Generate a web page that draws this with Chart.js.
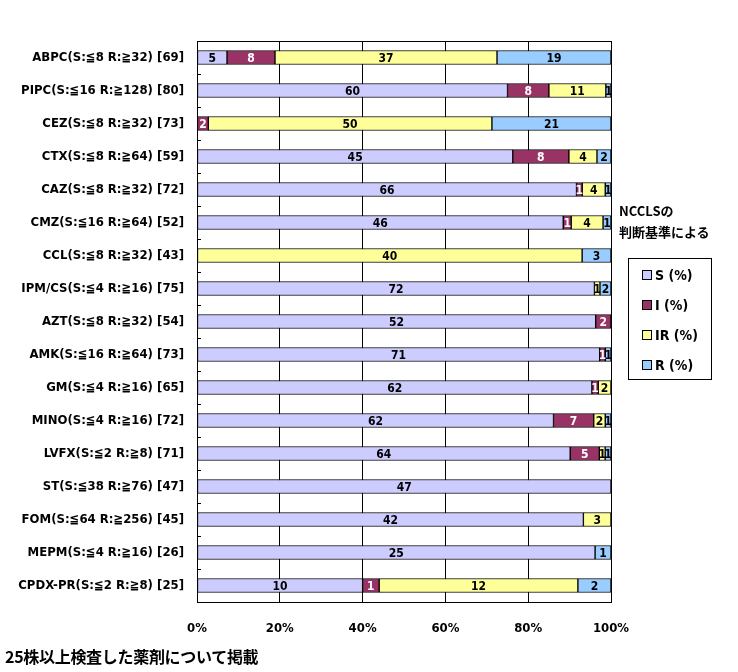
<!DOCTYPE html>
<html lang="ja">
<head>
  <meta charset="UTF-8" />
  <title>NCCLS 判断基準による感受性</title>
  <script src="https://cdn.jsdelivr.net/npm/chart.js"></script>
  <style>
    body { margin: 0; background: #fff; }
    #wrap { position: relative; width: 738px; height: 672px; }
    .note { position: absolute; font-family: "Noto Sans CJK JP", sans-serif; font-weight: bold; color: #000; white-space: nowrap; }
    #legend { position: absolute; left: 628px; top: 258px; width: 84px; height: 122px; border: 1px solid #000; box-sizing: border-box; }
    #legend div { position: absolute; left: 13px; font: bold 14px "DejaVu Sans Condensed", "Noto Sans CJK JP", sans-serif; }
    #legend span { display: inline-block; width: 8px; height: 8px; border: 1px solid #000; margin-right: 3px; }
  </style>
</head>
<body>
  <div id="wrap">
    <canvas id="chart" width="738" height="672"></canvas>
    <div class="note" style="left:619px; top:201px; font-size:13px;">NCCLSの</div>
    <div class="note" style="left:619px; top:222px; font-size:13px;">判断基準による</div>
    <div id="legend"></div>
    <div class="note" style="left:5px; top:644px; font-size:16px; letter-spacing:-0.3px;">25株以上検査した薬剤について掲載</div>
  </div>

  <script>
    const categories = [
      "ABPC(S:≦8 R:≧32) [69]", "PIPC(S:≦16 R:≧128) [80]", "CEZ(S:≦8 R:≧32) [73]",
      "CTX(S:≦8 R:≧64) [59]", "CAZ(S:≦8 R:≧32) [72]", "CMZ(S:≦16 R:≧64) [52]",
      "CCL(S:≦8 R:≧32) [43]", "IPM/CS(S:≦4 R:≧16) [75]", "AZT(S:≦8 R:≧32) [54]",
      "AMK(S:≦16 R:≧64) [73]", "GM(S:≦4 R:≧16) [65]", "MINO(S:≦4 R:≧16) [72]",
      "LVFX(S:≦2 R:≧8) [71]", "ST(S:≦38 R:≧76) [47]", "FOM(S:≦64 R:≧256) [45]",
      "MEPM(S:≦4 R:≧16) [26]", "CPDX-PR(S:≦2 R:≧8) [25]"
    ];
    // counts per category
    const sCounts  = [5, 60, 0, 45, 66, 46, 0, 72, 52, 71, 62, 62, 64, 47, 42, 25, 10];
    const iCounts  = [8, 8, 2, 8, 1, 1, 0, 0, 2, 1, 1, 7, 5, 0, 0, 0, 1];
    const irCounts = [37, 11, 50, 4, 4, 4, 40, 1, 0, 0, 2, 2, 1, 0, 3, 0, 12];
    const rCounts  = [19, 1, 21, 2, 1, 1, 3, 2, 0, 1, 0, 1, 1, 0, 0, 1, 2];
    const seriesNames = ["S (%)", "I (%)", "IR (%)", "R (%)"];
    const xTicks = [0, 20, 40, 60, 80, 100];

    const colors = ["#CCCCFF", "#993366", "#FFFF99", "#99CCFF"];
    const labelColors = ["#000", "#fff", "#000", "#000"];
    const allCounts = [sCounts, iCounts, irCounts, rCounts];
    const totals = categories.map((c, i) => allCounts.reduce((a, arr) => a + arr[i], 0));

    const datasets = allCounts.map((arr, k) => ({
      label: seriesNames[k],
      data: arr.map((v, i) => v / totals[i] * 100),
      counts: arr,
      backgroundColor: colors[k],
      borderColor: "#000",
      borderWidth: 1,
      borderSkipped: false,
      barThickness: 14
    }));

    // legend
    const legend = document.getElementById("legend");
    seriesNames.forEach((n, k) => {
      const d = document.createElement("div");
      d.style.top = (8 + k * 30) + "px";
      d.innerHTML = '<span style="background:' + colors[k] + '"></span>' + n;
      legend.appendChild(d);
    });

    const labelFont = 'bold 12px "DejaVu Sans Condensed", sans-serif';

    const framePlugin = {
      id: "frame",
      afterDraw(chart) {
        const { ctx, chartArea: a, scales } = chart;
        ctx.save();
        ctx.strokeStyle = "#000";
        ctx.lineWidth = 1;
        ctx.strokeRect(a.left + 0.5, a.top + 0.5, a.right - a.left, a.bottom - a.top);
        // small inner ticks between categories
        const y = scales.y;
        ctx.beginPath();
        for (let i = 1; i < categories.length; i++) {
          const py = Math.round((y.getPixelForValue(i - 1) + y.getPixelForValue(i)) / 2) + 0.5;
          ctx.moveTo(a.left, py);
          ctx.lineTo(a.left + 4, py);
        }
        ctx.stroke();
        // value labels
        ctx.font = labelFont;
        ctx.textAlign = "center";
        ctx.textBaseline = "middle";
        chart.data.datasets.forEach((ds, k) => {
          chart.getDatasetMeta(k).data.forEach((el, i) => {
            const v = ds.counts[i];
            if (!v) return;
            const p = el.getProps(["x", "y", "base"], true);
            ctx.fillStyle = labelColors[k];
            ctx.fillText(String(v), (p.x + p.base) / 2, p.y + 1);
          });
        });
        ctx.restore();
      }
    };

    new Chart(document.getElementById("chart"), {
      type: "bar",
      data: { labels: categories, datasets },
      plugins: [framePlugin],
      options: {
        responsive: false,
        animation: false,
        indexAxis: "y",
        layout: { padding: { top: 41, right: 127, bottom: 0, left: 0 } },
        plugins: { legend: { display: false }, tooltip: { enabled: false } },
        scales: {
          x: {
            stacked: true,
            min: 0,
            max: 100,
            afterBuildTicks(scale) { scale.ticks = xTicks.map(v => ({ value: v })); },
            afterFit(scale) { scale.height = 70; },
            grid: { color: "#000", drawTicks: false, lineWidth: 1 },
            border: { display: false },
            ticks: {
              padding: 19,
              color: "#000",
              font: { family: '"DejaVu Sans Condensed", sans-serif', size: 13, weight: "bold" },
              callback: v => v + "%"
            }
          },
          y: {
            stacked: true,
            afterFit(scale) { scale.width = 197; },
            grid: { display: false, drawTicks: false },
            border: { display: true, color: "#000" },
            ticks: {
              padding: 13,
              color: "#000",
              autoSkip: false,
              font: { family: '"DejaVu Sans Condensed", "Noto Sans CJK JP", sans-serif', size: 13, weight: "bold" }
            }
          }
        }
      }
    });
  </script>
</body>
</html>
